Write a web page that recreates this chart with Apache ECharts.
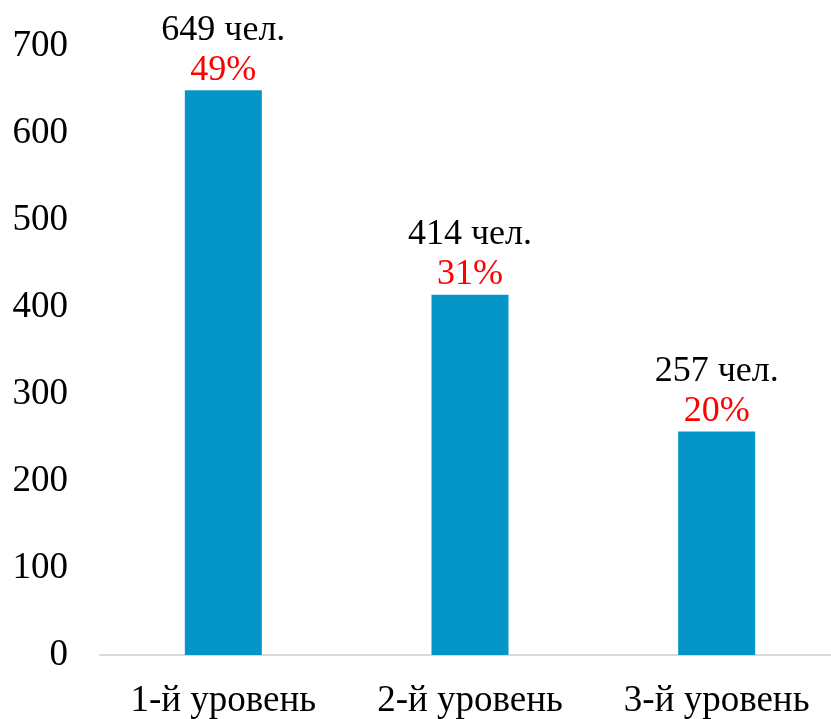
<!DOCTYPE html>
<html><head><meta charset="utf-8">
<script src="https://cdn.jsdelivr.net/npm/echarts@6/dist/echarts.min.js"></script>
<style>html,body{margin:0;padding:0;background:#fff}#c{width:831px;height:719px}</style>
</head><body><div id="c"></div>
<script>
const categories = ['1-й уровень', '2-й уровень', '3-й уровень'];
const counts = [649, 414, 257];
const percents = ['49%', '31%', '20%'];
const yTicks = { min: 0, max: 700, interval: 100 };

const chart = echarts.init(document.getElementById('c'));
const font = '"Liberation Serif", "Times New Roman", serif';
chart.setOption({
  animation: false,
  grid: { left: 100, width: 740, top: 46, bottom: 64, containLabel: false, outerBoundsMode: 'none' },
  xAxis: {
    type: 'category', data: categories,
    axisLine: { lineStyle: { color: '#d9d9d9', width: 2 } },
    axisTick: { show: false },
    axisLabel: { color: '#000', fontFamily: font, fontSize: 37, margin: 28 }
  },
  yAxis: {
    type: 'value', min: yTicks.min, max: yTicks.max, interval: yTicks.interval,
    splitLine: { show: false }, axisLine: { show: false }, axisTick: { show: false },
    axisLabel: { color: '#000', fontFamily: font, fontSize: 37, margin: 32 }
  },
  series: [{
    type: 'bar', barWidth: 77,
    data: counts,
    itemStyle: { color: '#0496c8' },
    label: {
      show: true, position: 'top', distance: 0,
      formatter: p => '{a|' + p.value + ' чел.}\n{b|' + percents[p.dataIndex] + '}',
      rich: {
        a: { color: '#000', fontFamily: font, fontSize: 36, lineHeight: 40 },
        b: { color: '#ff0000', fontFamily: font, fontSize: 36, lineHeight: 40 }
      }
    }
  }]
});
</script></body></html>
